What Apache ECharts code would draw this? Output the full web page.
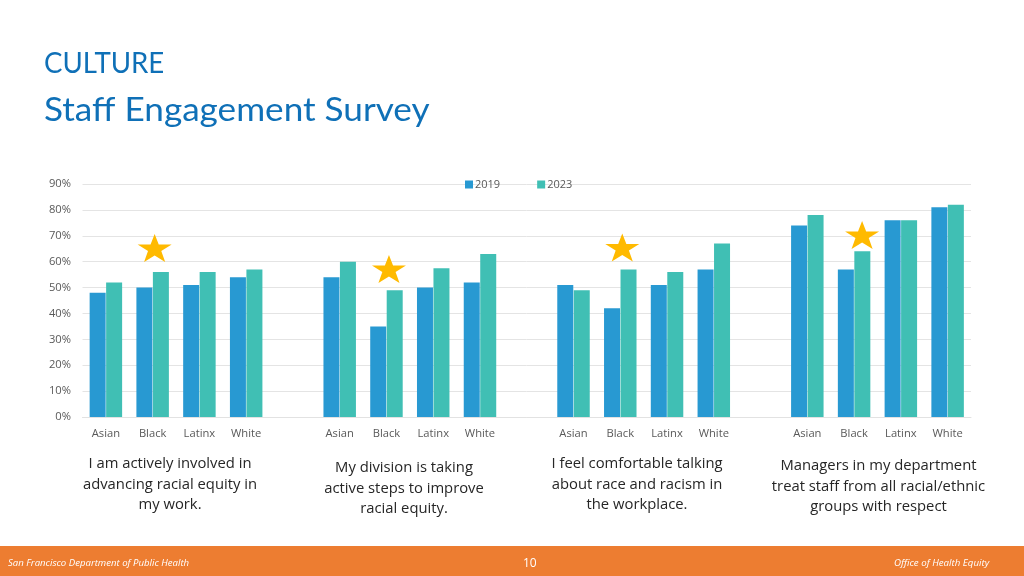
<!DOCTYPE html>
<html><head><meta charset="utf-8">
<style>html,body{margin:0;padding:0;background:#fff}#c{width:1024px;height:576px}</style>
<script src="https://cdn.jsdelivr.net/npm/echarts@6/dist/echarts.min.js"></script>
</head><body><div id="c"></div>
<script>
const categories = ['Asian','Black','Latinx','White','',' Asian',' Black',' Latinx',' White',' ','  Asian','  Black','  Latinx','  White','  ','   Asian','   Black','   Latinx','   White'];
const values2019 = [48,50,51,54,null,54,35,50,52,null,51,42,51,57,null,74,57,76,81];
const values2023 = [52,56,56,57,null,60,49,57.5,63,null,49,57,56,67,null,78,64,76,82];
const starCategories = ['Black',' Black','  Black','   Black'];
const starValues = [65.3,57.2,65.5,70.3];
const yTicks = [0,10,20,30,40,50,60,70,80,90];
const captions = [
  'I am actively involved in\nadvancing racial equity in\nmy work.',
  'My division is taking\nactive steps to improve\nracial equity.',
  'I feel comfortable talking\nabout race and racism in\nthe workplace.',
  'Managers in my department\ntreat staff from all racial/ethnic\ngroups with respect'
];
const titleLines = ['CULTURE','Staff Engagement Survey'];
const footerLeft = 'San Francisco Department of Public Health';
const footerRight = 'Office of Health Equity';
const pageNumber = '10';

const starPath = 'path://M50 0 L62 36 L100 36 L69.5 58 L81 95 L50 73 L19 95 L30.5 58 L0 36 L38 36 Z';
const starShift = [2,2.5,2,8];
const capPos = [[170,454],[404,458],[637,454],[878.5,456]];
const capFont = '14.8px "Open Sans"';

const chart = echarts.init(document.getElementById('c'), null, {renderer:'canvas'});
chart.setOption({
  animation:false,
  backgroundColor:'#fff',
  grid:{left:82.5,right:53,top:184,bottom:159,containLabel:false},
  legend:{
    data:['2019','2023'],left:460,top:174,itemWidth:8,itemHeight:8,itemGap:37,
    icon:'rect',textStyle:{fontFamily:'Open Sans',fontSize:11,color:'#595959',padding:[0,0,0,-3]}
  },
  xAxis:{
    type:'category',data:categories,
    axisLine:{lineStyle:{color:'#e2e2e2'}},axisTick:{show:false},
    axisLabel:{interval:0,margin:11,fontFamily:'Open Sans',fontSize:11.2,color:'#595959',formatter:v=>v.trim()}
  },
  yAxis:{
    type:'value',min:yTicks[0],max:yTicks[yTicks.length-1],interval:10,
    axisLine:{show:false},axisTick:{show:false},
    axisLabel:{margin:11.5,fontFamily:'Open Sans',fontSize:11.2,color:'#595959',formatter:'{value}%',padding:[2,0,0,0]},
    splitLine:{lineStyle:{color:'#e4e4e4',width:1}}
  },
  series:[
    {name:'2019',type:'bar',data:values2019,barWidth:16,barGap:'3%',itemStyle:{color:'#2899d2'}},
    {name:'2023',type:'bar',data:values2023,barWidth:16,itemStyle:{color:'#40bfb4'}},
    {name:'star',type:'scatter',z:5,symbol:starPath,symbolSize:[34,28],
     itemStyle:{color:'#ffba00',opacity:1},
     data:starCategories.map((c,i)=>({value:[c,starValues[i]],symbolOffset:[starShift[i],0]}))}
  ],
  graphic:[
    {type:'text',x:44,y:49.5,scaleX:0.97,style:{text:titleLines[0],font:'28.5px Lato',fill:'#0f70b7'}},
    {type:'text',x:44,y:94,scaleX:1.065,style:{text:titleLines[1],font:'33px Lato',fill:'#0f70b7'}},
    ...captions.map((t,i)=>({type:'text',x:capPos[i][0],y:capPos[i][1],
      style:{text:t,font:capFont,fill:'#262626',align:'center',lineHeight:20.5}})),
    {type:'rect',shape:{x:0,y:546,width:1024,height:30},style:{fill:'#ed7d31'}},
    {type:'text',x:8,y:558,style:{text:footerLeft,font:'italic 9.6px "Open Sans"',fill:'#fff'}},
    {type:'text',x:523,y:558,style:{text:pageNumber,font:'12px "Open Sans"',fill:'#fff'}},
    {type:'text',x:894,y:558,style:{text:footerRight,font:'italic 9.7px "Open Sans"',fill:'#fff'}}
  ]
});
</script></body></html>
